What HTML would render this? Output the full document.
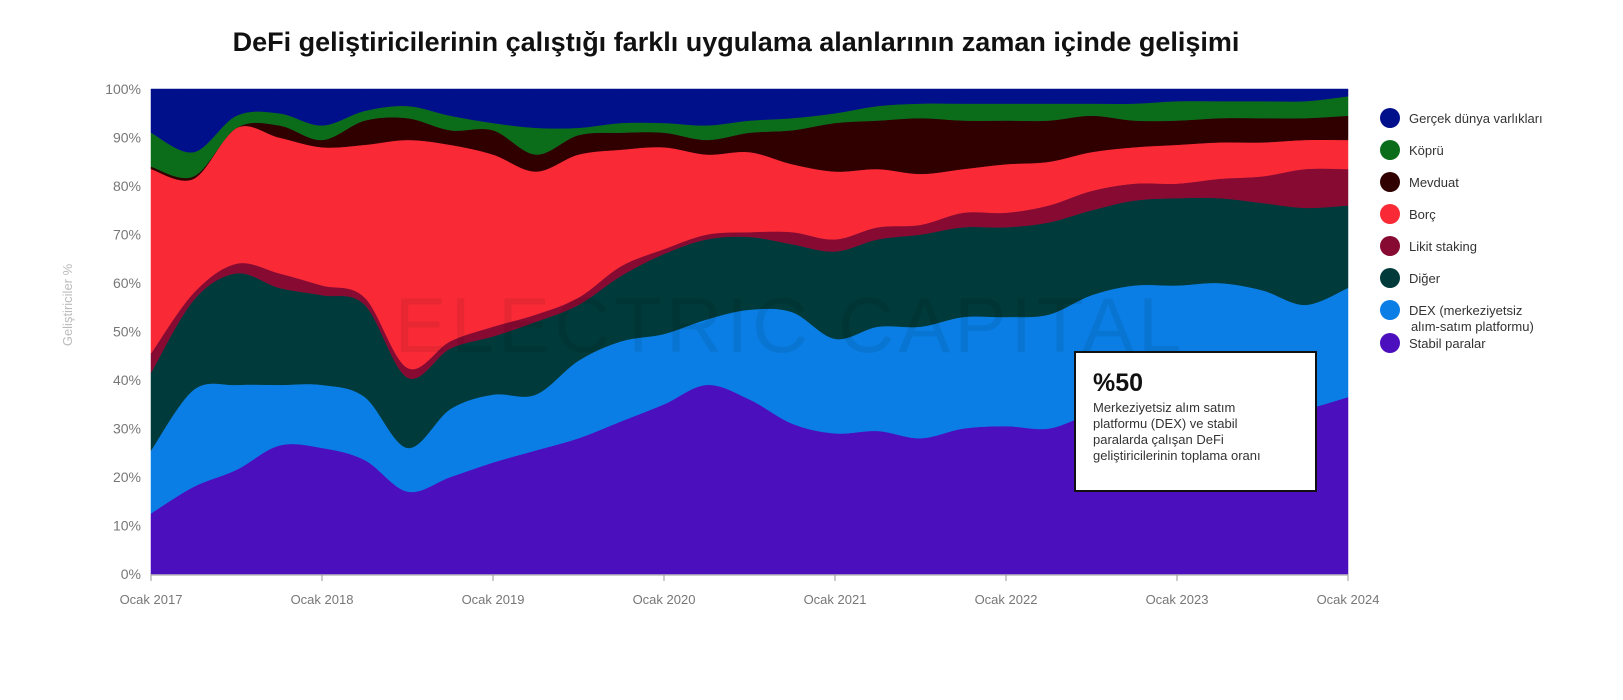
<!DOCTYPE html>
<html><head><meta charset="utf-8">
<style>
body{margin:0;background:#fff;}
svg text{font-family:"Liberation Sans",sans-serif;}
</style></head>
<body>
<svg id="chart" width="1623" height="695" viewBox="0 0 1623 695" xmlns="http://www.w3.org/2000/svg">
<text x="736" y="51" text-anchor="middle" font-size="27" font-weight="bold" fill="#111">DeFi geliştiricilerinin çalıştığı farklı uygulama alanlarının zaman içinde gelişimi</text>
<g id="areas"></g>
<text x="790" y="352" text-anchor="middle" font-size="78" fill="#000" fill-opacity="0.07" letter-spacing="4">ELECTRIC CAPITAL</text>
<g id="yaxis"></g>
<g id="xaxis"></g>
<text transform="translate(72,305) rotate(-90)" text-anchor="middle" font-size="13" fill="#bbb">Geliştiriciler %</text>
<g id="legend"></g>
<g>
<rect x="1075" y="352" width="241" height="139" fill="#fff" stroke="#111" stroke-width="2"/>
<text x="1093" y="391" font-size="25" font-weight="bold" fill="#111">%50</text>
<text x="1093" y="412" font-size="13" fill="#333">Merkeziyetsiz alım satım</text>
<text x="1093" y="428" font-size="13" fill="#333">platformu (DEX) ve stabil</text>
<text x="1093" y="444" font-size="13" fill="#333">paralarda çalışan DeFi</text>
<text x="1093" y="460" font-size="13" fill="#333">geliştiricilerinin toplama oranı</text>
</g>
</svg>
<script>
// quarterly points, Jan 2017 .. Jan 2024 (share %)
const stabil  = [12.5,18,21.5,26.5,26,23.5,17,20,23,25.5,28,31.5,35,39,36,31,29,29.5,28,30,30.5,30,33,34,35,35,33,34,36.5];
const dex     = [13,20,17.5,12.5,13,13,9,14,14,11.5,16,16.5,14.5,13.5,18.5,23,19.5,21.5,23,23,22.5,23.5,24.5,25.5,24.5,25,25.5,21.5,22.5];
const diger   = [16,18.5,23,20,18.5,19,14.5,12.5,12,15,11.5,13.5,16.5,16.5,15,14,18,18,19,18.5,18.5,19,17.5,17.5,18,17.5,18,20,17];
const likit   = [4,1.5,2,3,2,1.5,2,1.5,2,1.5,1.5,2,1,1,1,2.5,2.5,2.5,2,3,3,3.5,4,3.5,3,4,5.5,8,7.5];
const borc    = [38,23.5,28,28,28.5,31.5,47,40.5,35.5,29.5,29.5,24,21,16.5,16.5,14,14,12,10.5,9,10,9,8,7.5,8,7.5,7,6,6];
const mevduat = [0.5,0.5,0,2.5,1.5,5,4.5,3,5,3.5,4,3.5,3,3,4,7,10,10,11.5,10,9,8.5,7.5,5.5,5,5,5,4.5,5];
const kopru   = [7,5,2.5,2.5,3,2,2.5,3,1.5,5.5,1.5,2,2,3,2.5,2.5,2,3,3,3.5,3.5,3.5,2.5,3.5,4,3.5,3.5,3.5,4];
const gercek  = [9,13,5.5,5,7.5,4.5,3.5,5.5,7,8,8,7,7,7.5,6.5,6,5,3.5,3,3,3,3,3,3,2.5,2.5,2.5,2.5,1.5];
const seriesNames = ["Stabil paralar","DEX","Diğer","Likit staking","Borç","Mevduat","Köprü","Gerçek dünya varlıkları"];
const yTicks = [0,10,20,30,40,50,60,70,80,90,100];
const xTickYears = [2017,2018,2019,2020,2021,2022,2023,2024];
const xTickLabels = ["Ocak 2017","Ocak 2018","Ocak 2019","Ocak 2020","Ocak 2021","Ocak 2022","Ocak 2023","Ocak 2024"];

const series=[stabil,dex,diger,likit,borc,mevduat,kopru,gercek];
const colors=["#4b0fbd","#0a7ee4","#003a3a","#870a33","#f92a36","#300000","#0b6d1a","#000f8a"];
const X0=151,X1=1348,Y0=574,Y1=89;
const xs=t=>X0+(t-2017)/7*(X1-X0);
const ys=v=>Y0-v/100*(Y0-Y1);
const NS="http://www.w3.org/2000/svg";
const n=stabil.length;
const cum=[];let acc=new Array(n).fill(0);cum.push(acc.slice());
series.forEach(s=>{acc=acc.map((a,i)=>a+s[i]);cum.push(acc.slice());});
// normalize to 100
for(let k=0;k<cum.length;k++)cum[k]=cum[k].map((v,i)=>v/acc[i]*100);
function curve(pts){let d="";for(let i=0;i<pts.length-1;i++){const p0=pts[Math.max(i-1,0)],p1=pts[i],p2=pts[i+1],p3=pts[Math.min(i+2,pts.length-1)];
const c1=[p1[0]+(p2[0]-p0[0])/6,p1[1]+(p2[1]-p0[1])/6],c2=[p2[0]-(p3[0]-p1[0])/6,p2[1]-(p3[1]-p1[1])/6];
d+=` C${c1[0]},${c1[1]} ${c2[0]},${c2[1]} ${p2[0]},${p2[1]}`;}return d;}
const g=document.getElementById("areas");
for(let k=0;k<series.length;k++){
 const top=cum[k+1].map((v,i)=>[xs(2017+i*0.25),k==series.length-1?Y1:ys(v)]);
 const bot=cum[k].map((v,i)=>[xs(2017+i*0.25),k==0?Y0:ys(v)]).reverse();
 const d="M"+top[0][0]+","+top[0][1]+curve(top)+" L"+bot[0][0]+","+bot[0][1]+curve(bot)+"Z";
 const p=document.createElementNS(NS,"path");
 
 
 p.setAttribute("d",d);p.setAttribute("fill",colors[k]);p.setAttribute("stroke",colors[k]);p.setAttribute("stroke-width","0.5");
 g.appendChild(p);
}
const ya=document.getElementById("yaxis");
yTicks.forEach(t=>{const tx=document.createElementNS(NS,"text");
 
 
 tx.setAttribute("x",141);tx.setAttribute("y",ys(t)+5);tx.setAttribute("text-anchor","end");tx.setAttribute("font-size","14");tx.setAttribute("fill","#777");tx.textContent=t+"%";ya.appendChild(tx);});
const xa=document.getElementById("xaxis");
const ln=document.createElementNS(NS,"line");


ln.setAttribute("x1",X0);ln.setAttribute("x2",X1);ln.setAttribute("y1",Y0+1);ln.setAttribute("y2",Y0+1);ln.setAttribute("stroke","#999");xa.appendChild(ln);
xTickYears.forEach((yr,i)=>{const x=xs(yr);
 const tk=document.createElementNS(NS,"line");
 
 
 tk.setAttribute("x1",x);tk.setAttribute("x2",x);tk.setAttribute("y1",Y0);tk.setAttribute("y2",Y0+7);tk.setAttribute("stroke","#999");xa.appendChild(tk);
 const tx=document.createElementNS(NS,"text");
 
 
 tx.setAttribute("x",x);tx.setAttribute("y",604);tx.setAttribute("text-anchor","middle");tx.setAttribute("font-size","13");tx.setAttribute("fill","#777");tx.textContent=xTickLabels[i];xa.appendChild(tx);});
const lg=document.getElementById("legend");
const legItems=[["Gerçek dünya varlıkları",7,118],["Köprü",6,150],["Mevduat",5,182],["Borç",4,214],["Likit staking",3,246],["Diğer",2,278],["DEX (merkeziyetsiz",1,310],["Stabil paralar",0,343]];
legItems.forEach(it=>{const c=document.createElementNS(NS,"circle");
 
 
 c.setAttribute("cx",1390);c.setAttribute("cy",it[2]);c.setAttribute("r",10);c.setAttribute("fill",colors[it[1]]);lg.appendChild(c);
 const t=document.createElementNS(NS,"text");
 
 
 t.setAttribute("x",1409);t.setAttribute("y",it[2]+5);t.setAttribute("font-size","13");t.setAttribute("fill","#333");t.textContent=it[0];lg.appendChild(t);});
const t2=document.createElementNS(NS,"text");


t2.setAttribute("x",1411);t2.setAttribute("y",331);t2.setAttribute("font-size","13");t2.setAttribute("fill","#333");t2.textContent="alım-satım platformu)";lg.appendChild(t2);
</script>
</body></html>
